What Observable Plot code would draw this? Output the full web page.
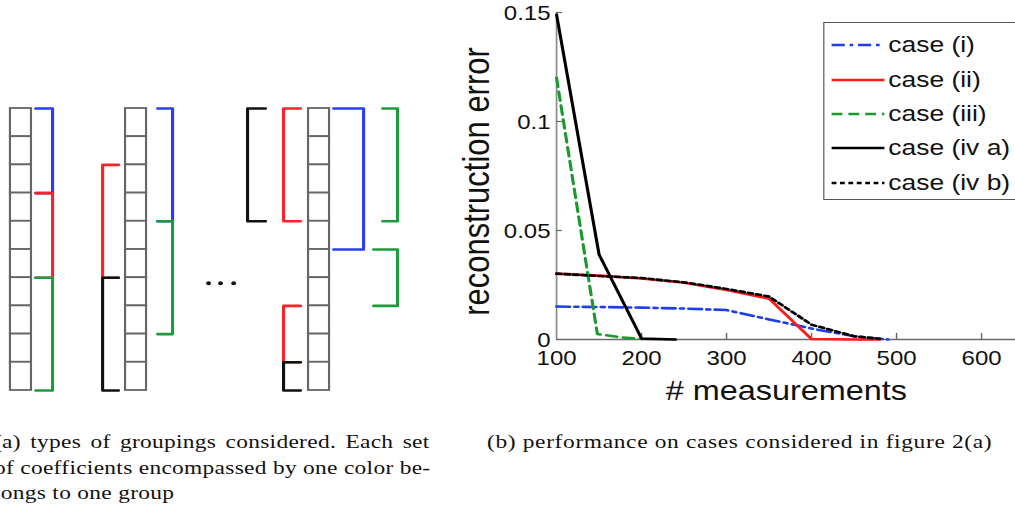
<!DOCTYPE html>
<html>
<head>
<meta charset="utf-8">
<script src="https://cdn.jsdelivr.net/npm/d3@7"></script>
<script src="https://cdn.jsdelivr.net/npm/@observablehq/plot@0.6"></script>
<style>
  html, body { margin: 0; padding: 0; background: #fff; overflow: hidden; }
  #fig { position: relative; width: 845.8px; height: 508px; overflow: hidden;
         transform: scaleX(1.2); transform-origin: 0 0; }
  #diagram { position: absolute; left: 0; top: 0; width: 366px; }
  #chart { position: absolute; left: 366.7px; top: 0; width: 531.3px; }
  #fig svg { max-width: none !important; }
  .cap { position: absolute; font-family: "Liberation Serif", "Times New Roman", serif;
         font-size: 19.5px; line-height: 25.5px; white-space: nowrap; color: #111; letter-spacing: 0.55px; }
  .just { text-align: justify; text-align-last: justify; letter-spacing: 0.25px; }
  #legend { position: absolute; left: 685.8px; top: 22px; width: 200px; height: 176px;
            border: 1.2px solid #555; background: #fff;
            font-family: "Liberation Sans", Arial, sans-serif; font-size: 22px; color: #111; }
  .entry { position: absolute; left: 6px; height: 30px; display: flex; align-items: center; }
  .entry svg { width: 44px; height: 10px; margin-right: 3.5px; overflow: visible; }
</style>
</head>
<body>
<div id="fig">
  <div id="diagram"></div>
  <div id="chart"></div>
  <div id="legend"></div>
  <div class="cap just" style="left:-5px; top:429px; width:363px;">(a) types of groupings considered. Each set</div>
  <div class="cap just" style="left:-5px; top:454.5px; width:363px;">of coefficients encompassed by one color be-</div>
  <div class="cap" style="left:-5px; top:480px; letter-spacing:0.25px;">longs to one group</div>
  <div class="cap" style="left:405.8px; top:429px;">(b) performance on cases considered in figure 2(a)</div>
</div>
<script>
// ---------- panel (a): groupings diagram ----------
const columnLefts = [8.3, 104.2, 256.7];
const cellCount = 10;
const cellWidth = 17.5;
// each bracket: tip (free end of horizontal ticks), spine (vertical), from/to cell boundary, colour
const bracketTips   = [29.2, 29.2, 29.2, 98.3, 98.3, 130.8, 130.8, 220.8, 250, 250, 250, 277.5, 318.3, 310.8];
const bracketSpines = [43.3, 43.3, 43.3, 85, 85, 143.3, 143.3, 205.8, 235.8, 235.8, 235.8, 302.5, 330.8, 330.8];
const bracketFrom   = [0, 3, 6, 2, 6, 0, 4, 0, 0, 7, 9, 0, 0, 5];
const bracketTo     = [3, 6, 10, 6, 10, 4, 8, 4, 4, 9, 10, 5, 4, 7];
const bracketColors = ["#2b3df5", "#f5252a", "#1f9a3d", "#f5252a", "#111111", "#2b3df5", "#1f9a3d",
                       "#111111", "#f5252a", "#f5252a", "#111111", "#2b3df5", "#1f9a3d", "#1f9a3d"];
const ellipsisX = [173.3, 183.3, 194.2];
const ellipsisRow = 6.2;

const cells = columnLefts.flatMap((left, c) =>
  d3.range(cellCount).map(i => ({c, x1: left, x2: left + cellWidth, y1: i, y2: i + 1})));
const bracketPts = bracketTips.flatMap((tip, i) => [
  {id: i, x: tip, y: bracketFrom[i], c: bracketColors[i]},
  {id: i, x: bracketSpines[i], y: bracketFrom[i], c: bracketColors[i]},
  {id: i, x: bracketSpines[i], y: bracketTo[i], c: bracketColors[i]},
  {id: i, x: tip, y: bracketTo[i], c: bracketColors[i]}
]);

const diagram = Plot.plot({
  width: 366, height: 420,
  x: {domain: [0, 366], range: [0, 366], axis: null},
  y: {domain: [0, 10], range: [108, 390], axis: null},
  color: {type: "identity"},
  style: {background: "transparent", overflow: "visible"},
  marks: [
    Plot.rect(cells, {x1: "x1", x2: "x2", y1: "y1", y2: "y2", fill: "white", stroke: "#666", strokeWidth: 1.8}),
    Plot.line(bracketPts, {x: "x", y: "y", z: "id", stroke: "c", strokeWidth: 2.6,
                           strokeLinejoin: "round", strokeLinecap: "round", curve: "linear"}),
    Plot.dot(ellipsisX, {x: d => d, y: () => ellipsisRow, r: 2, fill: "#111", stroke: "none"})
  ]
});
document.getElementById("diagram").append(diagram);

// ---------- panel (b): reconstruction error ----------
const xTicks = [100, 200, 300, 400, 500, 600];
const yTicks = [0, 0.05, 0.1, 0.15];
const yTickLabels = ["0", "0.05", "0.1", "0.15"];

const seriesNames = ["case (i)", "case (ii)", "case (iii)", "case (iv a)", "case (iv b)"];
const seriesColors = ["#1f3ee8", "#ff1a1a", "#1a9a2e", "#000000", "#000000"];
const seriesDash = ["11,4,3,4", null, "9,5", null, "4,3"];

const caseI_x  = [100, 150, 200, 250, 300, 350, 400, 450, 490];
const caseI_y  = [0.0151, 0.0149, 0.0146, 0.0142, 0.0135, 0.0092, 0.0050, 0.0015, 0];
const caseII_x = [100, 150, 200, 250, 300, 350, 400, 450, 480];
const caseII_y = [0.0302, 0.0293, 0.0280, 0.0260, 0.0227, 0.0187, 0.0002, 0, 0];
const caseIII_x = [100, 148, 175, 200];
const caseIII_y = [0.120, 0.0025, 0.0010, 0.0003];
const caseIVa_x = [100, 150, 200, 240];
const caseIVa_y = [0.149, 0.039, 0.0004, 0];
const caseIVb_x = [100, 150, 200, 250, 300, 350, 400, 450, 480];
const caseIVb_y = [0.0302, 0.0291, 0.0282, 0.0262, 0.0232, 0.0197, 0.0068, 0.0015, 0.0003];

const seriesX = [caseI_x, caseII_x, caseIII_x, caseIVa_x, caseIVb_x];
const seriesY = [caseI_y, caseII_y, caseIII_y, caseIVa_y, caseIVb_y];

const lineMarks = seriesX.map((xs, s) => Plot.line(
  xs.map((x, i) => ({x, y: seriesY[s][i]})),
  {x: "x", y: "y", stroke: seriesColors[s], strokeWidth: 2.6,
   strokeDasharray: seriesDash[s] || undefined, strokeLinejoin: "round"}));

const chart = Plot.plot({
  width: 531.3, height: 420,
  marginLeft: 96.3, marginRight: 10, marginTop: 12, marginBottom: 81,
  x: {domain: [100, 700], axis: null},
  y: {domain: [0, 0.15], axis: null},
  style: {background: "transparent", overflow: "visible",
          fontFamily: "'Liberation Sans', Arial, sans-serif", color: "#111"},
  marks: [
    Plot.ruleX([100], {y1: 0, y2: 0.15, stroke: "#8a8a8a", strokeWidth: 1.4}),
    Plot.ruleY([0], {x1: 100, x2: 700, stroke: "#6a6a6a", strokeWidth: 1.4}),
    Plot.ruleY(yTicks.slice(1), {x1: 100, x2: 107, stroke: "#6a6a6a", strokeWidth: 1.2}),
    Plot.ruleX(xTicks.slice(1), {y1: 0, y2: 0.0028, stroke: "#6a6a6a", strokeWidth: 1.2}),
    Plot.text(yTicks, {x: 100, y: d => d, text: (d, i) => yTickLabels[i], textAnchor: "end",
                       dx: -5, dy: 1, fontSize: 20, fill: "#111"}),
    Plot.text(xTicks, {x: d => d, y: 0, text: d => String(d), dy: 19, fontSize: 20, fill: "#111"}),
    ...lineMarks,
    Plot.text(["# measurements"], {frameAnchor: "bottom", dx: -21, dy: 61, fontSize: 27, fill: "#111"}),
    Plot.text(["reconstruction error"], {frameAnchor: "left", textAnchor: "middle", rotate: -90,
                                         dx: -66, dy: 5.5, fontSize: 31, fill: "#111"})
  ]
});
document.getElementById("chart").append(chart);

// legend
const legend = document.getElementById("legend");
const entryTops = [7, 42, 76, 110, 145];
seriesNames.forEach((name, s) => {
  const e = document.createElement("div");
  e.className = "entry";
  e.style.top = entryTops[s] + "px";
  const dash = seriesDash[s] ? ` stroke-dasharray="${seriesDash[s]}"` : "";
  e.innerHTML = `<svg viewBox="0 0 44 10"><line x1="0" y1="5" x2="44" y2="5" stroke="${seriesColors[s]}" stroke-width="2.6"${dash}/></svg><span>${name}</span>`;
  legend.append(e);
});
</script>
</body>
</html>
